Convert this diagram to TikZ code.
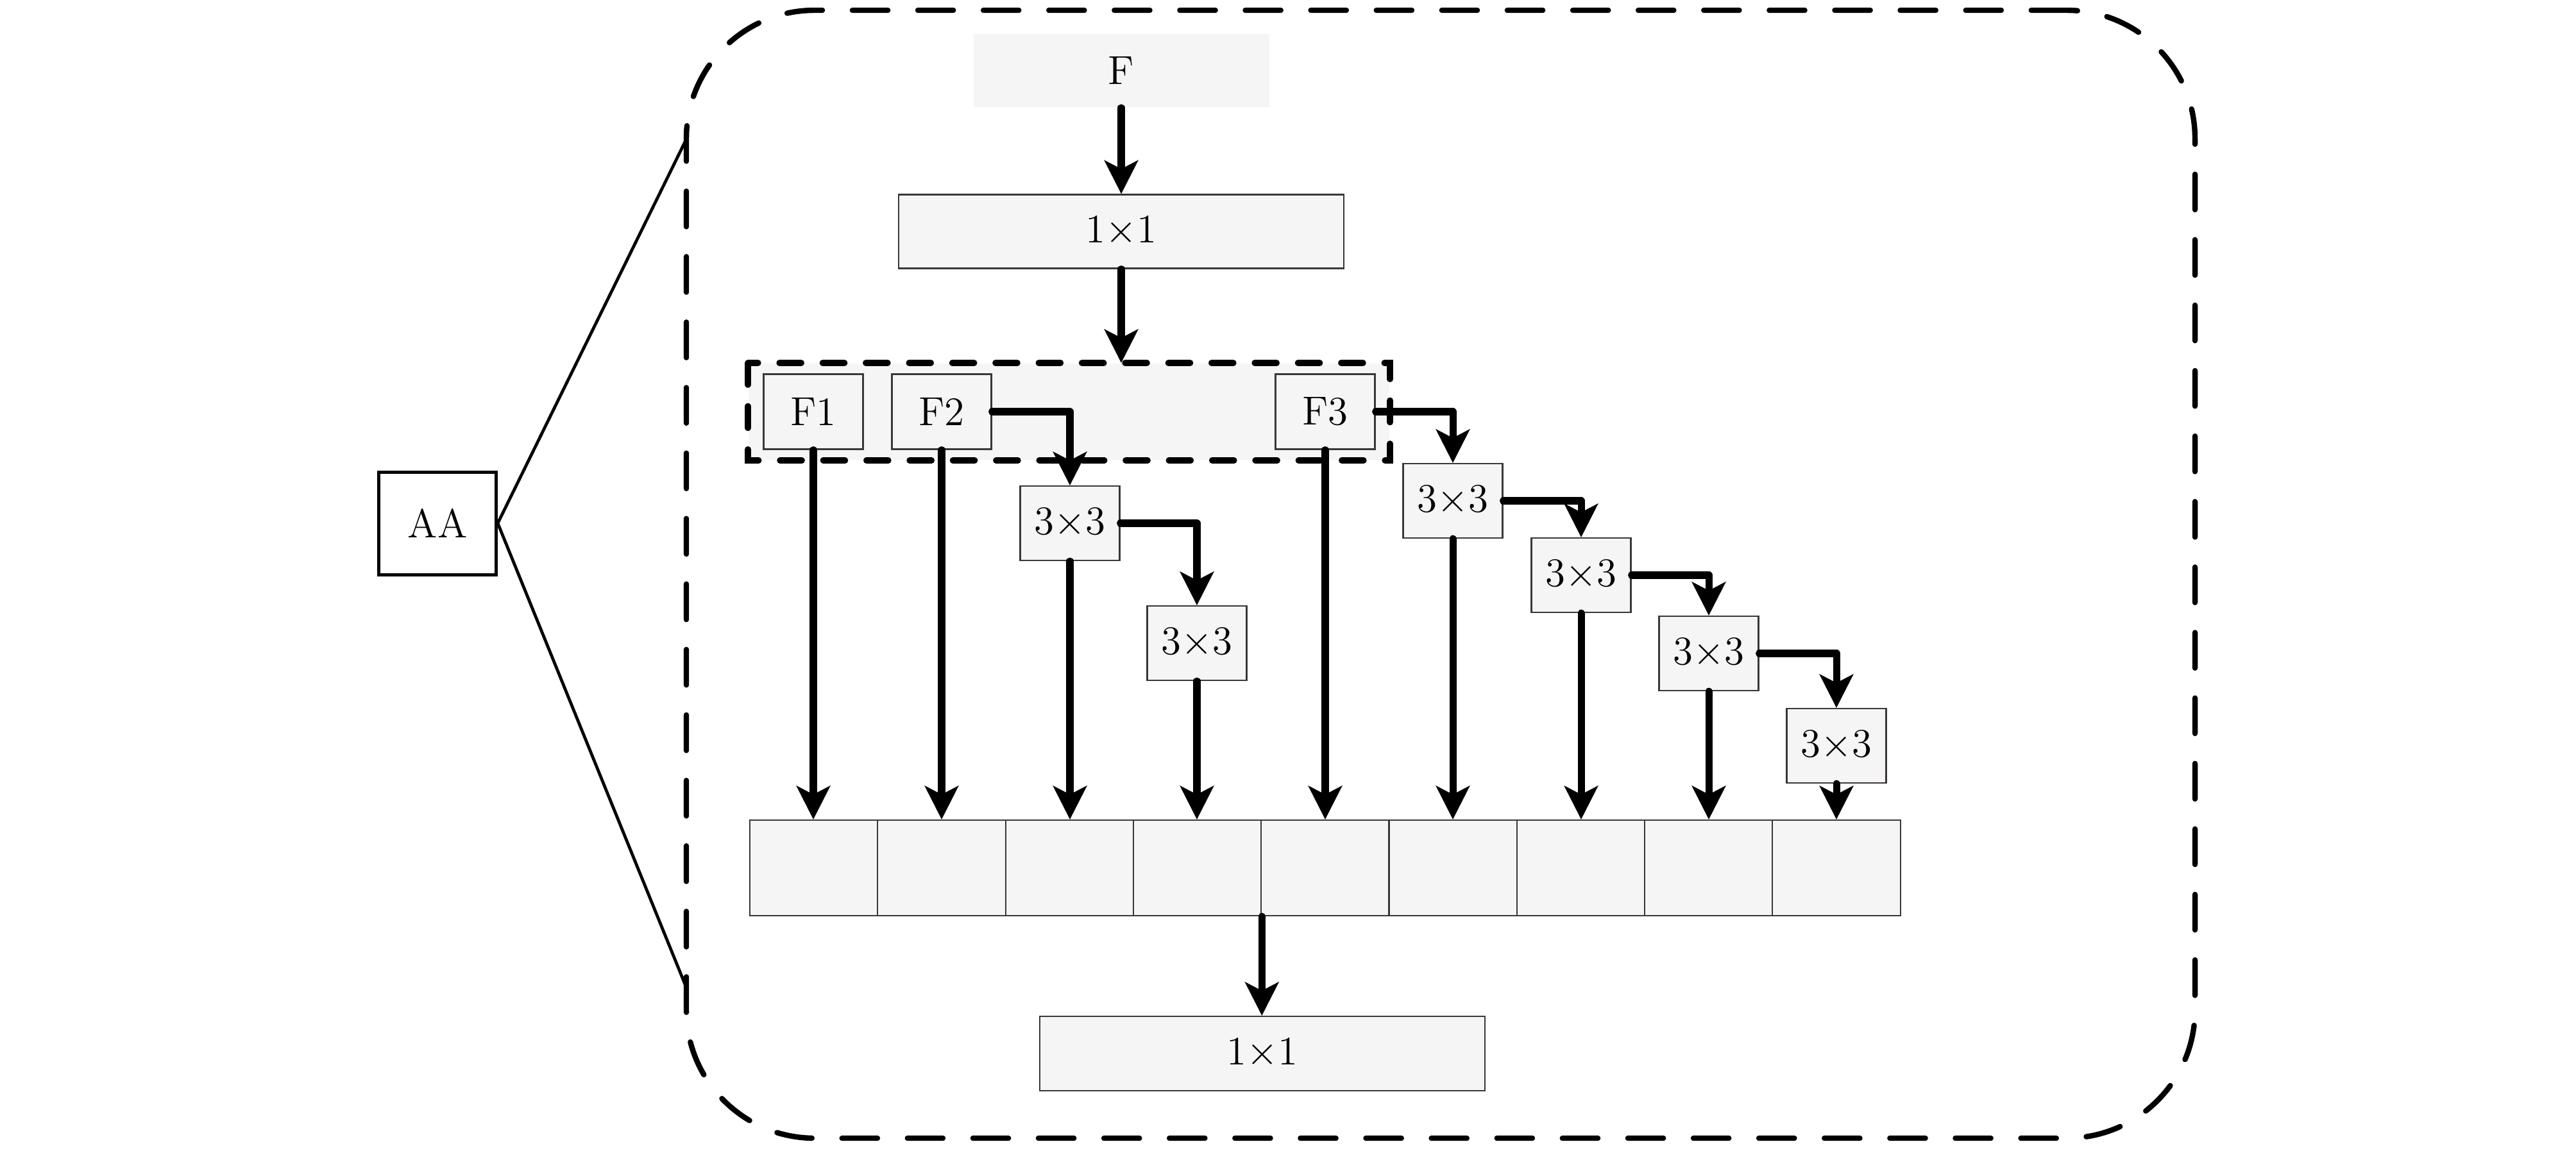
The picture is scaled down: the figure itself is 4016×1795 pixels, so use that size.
\documentclass[tikz,border=0pt]{standalone}
\usepackage{fontspec}
\usetikzlibrary{arrows.meta}
\definecolor{boxfill}{RGB}{245,245,245}
\definecolor{boxline}{RGB}{60,55,52}
\tikzset{
  box/.style={draw=boxline, fill=boxfill, line width=0.4pt, inner sep=0pt, font=\fontsize{12}{14}\selectfont},
  smallbox/.style={box, minimum width=155*0.19pt, minimum height=116*0.19pt},
  widebox/.style={box, minimum width=694*0.19pt, minimum height=115*0.19pt},
  cellbox/.style={box, minimum width=199.3*0.19pt, minimum height=149*0.19pt},
  arr/.style={line width=2.1pt, line cap=round, line join=round, -{Stealth[length=9.9pt,width=9.9pt,inset=2.5pt]}},
  outerdash/.style={line width=1.6pt, line cap=round, dash pattern=on 10.5pt off 8.9pt},
  groupdash/.style={line width=1.8pt, line cap=round, dash pattern=on 6.5pt off 6.3pt},
}
\begin{document}
\begin{tikzpicture}[x=0.19pt, y=-0.19pt]
\useasboundingbox (0,0) rectangle (4016,1795);

% outer dashed frame
\node[draw, outerdash, rounded corners=38pt, minimum width=2352*0.19pt, minimum height=1759*0.19pt, inner sep=0pt] (outer) at (2246,895.5) {};
\coordinate (ot) at (1070,217);
\coordinate (ob) at (1070,1540);

% AA
\node[box, draw=black, fill=white, line width=0.95pt, minimum width=183*0.19pt, minimum height=160*0.19pt] (aa) at (682,816) {AA};
\draw[line width=0.9pt] (aa.east) -- (ot);
\draw[line width=0.9pt] (aa.east) -- (ob);

% top
\node[box, draw=none, minimum width=461*0.19pt, minimum height=114*0.19pt] (F) at (1748,110) {F};
\node[widebox] (t11) at (1748,361) {$1{\times}1$};

% group
\node[fill=boxfill, minimum width=999*0.19pt, minimum height=150*0.19pt, inner sep=0pt] (grp) at (1666.5,642) {};
\draw[groupdash] (grp.north west) rectangle (grp.south east);
\node[smallbox, minimum height=117*0.19pt] (F1) at (1268,642) {F1};
\node[smallbox, minimum height=117*0.19pt] (F2) at (1468,642) {F2};
\node[smallbox, minimum height=117*0.19pt] (F3) at (2066,642) {F3};

% 3x3 boxes
\node[smallbox] (s1) at (1668,816) {$3{\times}3$};
\node[smallbox] (s2) at (1866,1003) {$3{\times}3$};
\node[smallbox] (s3) at (2265,781) {$3{\times}3$};
\node[smallbox] (s4) at (2465,897) {$3{\times}3$};
\node[smallbox] (s5) at (2664,1019) {$3{\times}3$};
\node[smallbox] (s6) at (2863,1163) {$3{\times}3$};

% row of cells
\foreach \k in {1,...,9} {
  \node[cellbox] (c\k) at ({1268.65+(\k-1)*199.3},1353.5) {};
}

% bottom
\node[widebox, minimum height=116*0.19pt] (bot) at (1968,1643) {$1{\times}1$};

% arrows
\draw[arr] (F.south) -- (F.south |- t11.north);
\draw[arr] (t11.south) -- (t11.south |- grp.north);
\draw[arr] (F2.east) -| (s1.north);
\draw[arr] (F3.east) -| (s3.north);
\draw[arr] (s1.east) -| (s2.north);
\draw[arr] (s3.east) -| (s4.north);
\draw[arr] (s4.east) -| (s5.north);
\draw[arr] (s5.east) -| (s6.north);
\foreach \s/\t in {F1/c1, F2/c2, s1/c3, s2/c4, F3/c5, s3/c6, s4/c7, s5/c8, s6/c9} {
  \draw[arr] (\s.south) -- (\s.south |- \t.north);
}
\draw[arr] (c4.south east) -- (c4.south east |- bot.north);
\end{tikzpicture}
\end{document}
